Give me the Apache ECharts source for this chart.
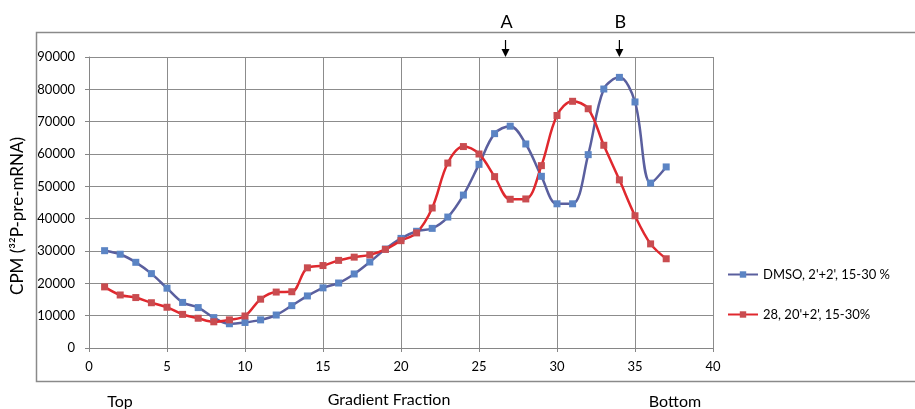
<!DOCTYPE html>
<html>
<head>
<meta charset="utf-8">
<script src="https://cdn.jsdelivr.net/npm/echarts@6/dist/echarts.min.js"></script>
<style>
  html, body { margin: 0; padding: 0; background: #fff; }
  #main { width: 915px; height: 409px; }
</style>
</head>
<body>
<div id="main"></div>
<script>
// 梯度分级 1..37
var fractions = [1, 2, 3, 4, 5, 6, 7, 8, 9, 10, 11, 12, 13, 14, 15, 16, 17, 18, 19, 20,
  21, 22, 23, 24, 25, 26, 27, 28, 29, 30, 31, 32, 33, 34, 35, 36, 37];
var dmso = [30100, 29000, 26500, 23000, 18500, 14100, 12500, 9400, 7500, 7900,
  8700, 10200, 13100, 16100, 18600, 20100, 22900, 26600, 30600, 33900,
  36100, 37000, 40500, 47300, 56800, 66300, 68600, 63100, 53100, 44600,
  44600, 59800, 80100, 83700, 76100, 51000, 56000];
var cpd28 = [18900, 16400, 15600, 14000, 12600, 10400, 9200, 8100, 8700, 9900,
  15100, 17300, 17400, 24800, 25500, 27100, 28100, 28800, 30500, 33200,
  35600, 43300, 57200, 62300, 60000, 53000, 46000, 46100, 56400, 71900,
  76300, 74000, 62700, 52000, 40900, 32200, 27600];
var seriesNames = ["DMSO, 2'+2', 15-30 %", "28, 20'+2', 15-30%"];
var arrowMarks = [{ label: 'A', x: 26.7 }, { label: 'B', x: 34 }];

function pairs(vals) {
  return fractions.map(function (f, i) { return [f, vals[i]]; });
}

var FONT = 'Lato, "Open Sans", sans-serif';
var chart = echarts.init(document.getElementById('main'));

chart.setOption({
  backgroundColor: '#fff',
  animation: false,
  textStyle: { fontFamily: FONT },
  grid: { left: 89, right: 202, top: 57, bottom: 61, containLabel: false },
  legend: {
    orient: 'vertical',
    left: 722,
    top: 263,
    itemGap: 27,
    itemWidth: 30,
    itemHeight: 8,
    textStyle: { color: '#000', fontSize: 13, fontFamily: FONT },
    data: seriesNames
  },
  xAxis: {
    type: 'value',
    min: 0,
    max: 40,
    interval: 5,
    axisLine: { lineStyle: { color: '#868686' } },
    axisTick: { show: true, length: 4, lineStyle: { color: '#868686' } },
    axisLabel: { color: '#000', fontSize: 13, margin: 12 },
    splitLine: { show: true, lineStyle: { color: '#8c8c8c', width: 1 } }
  },
  yAxis: {
    type: 'value',
    min: 0,
    max: 90000,
    interval: 10000,
    axisLine: { show: true, lineStyle: { color: '#868686' } },
    axisTick: { show: true, length: 4, lineStyle: { color: '#868686' } },
    axisLabel: {
      color: '#000', fontSize: 13, margin: 14,
      formatter: function (v) { return String(v); }
    },
    splitLine: { show: true, lineStyle: { color: '#8c8c8c', width: 1 } }
  },
  series: [{
    name: seriesNames[0],
    type: 'line',
    smooth: 0.35,
    symbol: 'rect',
    symbolSize: 7,
    lineStyle: { color: '#5a5f9e', width: 2.5 },
    itemStyle: { color: '#5b84c4' },
    data: pairs(dmso)
  }, {
    name: seriesNames[1],
    type: 'line',
    smooth: 0.35,
    symbol: 'rect',
    symbolSize: 7,
    lineStyle: { color: '#e0282e', width: 2.5 },
    itemStyle: { color: '#c94c50' },
    data: pairs(cpd28)
  }]
});

// 外框、坐标轴标题、底部文字和箭头
var g = [{
  type: 'rect',
  shape: { x: 36.5, y: 32.5, width: 900, height: 349 },
  style: { fill: 'none', stroke: '#8a8a8a', lineWidth: 1.5 },
  silent: true
}, {
  type: 'text', x: 18, y: 216, rotation: Math.PI / 2,
  style: { text: 'CPM (³²P-pre-mRNA)', fill: '#000', font: '17px ' + FONT, align: 'center', verticalAlign: 'middle' }
}, {
  type: 'text', x: 120, y: 402,
  style: { text: 'Top', fill: '#000', font: '16px ' + FONT, align: 'center', verticalAlign: 'middle' }
}, {
  type: 'text', x: 389, y: 400,
  style: { text: 'Gradient Fraction', fill: '#000', font: '16px ' + FONT, align: 'center', verticalAlign: 'middle' }
}, {
  type: 'text', x: 675, y: 402,
  style: { text: 'Bottom', fill: '#000', font: '16px ' + FONT, align: 'center', verticalAlign: 'middle' }
}];

arrowMarks.forEach(function (m) {
  var px = chart.convertToPixel({ gridIndex: 0 }, [m.x, 0])[0];
  g.push({
    type: 'text', x: px + 1, y: 22,
    style: { text: m.label, fill: '#000', font: '18px ' + FONT, align: 'center', verticalAlign: 'middle' }
  });
  g.push({
    type: 'line',
    shape: { x1: px, y1: 40, x2: px, y2: 52 },
    style: { stroke: '#000', lineWidth: 1.2 }
  });
  g.push({
    type: 'polygon',
    shape: { points: [[px - 4, 49], [px + 4, 49], [px, 57]] },
    style: { fill: '#000' }
  });
});

chart.setOption({ graphic: g });
</script>
</body>
</html>
